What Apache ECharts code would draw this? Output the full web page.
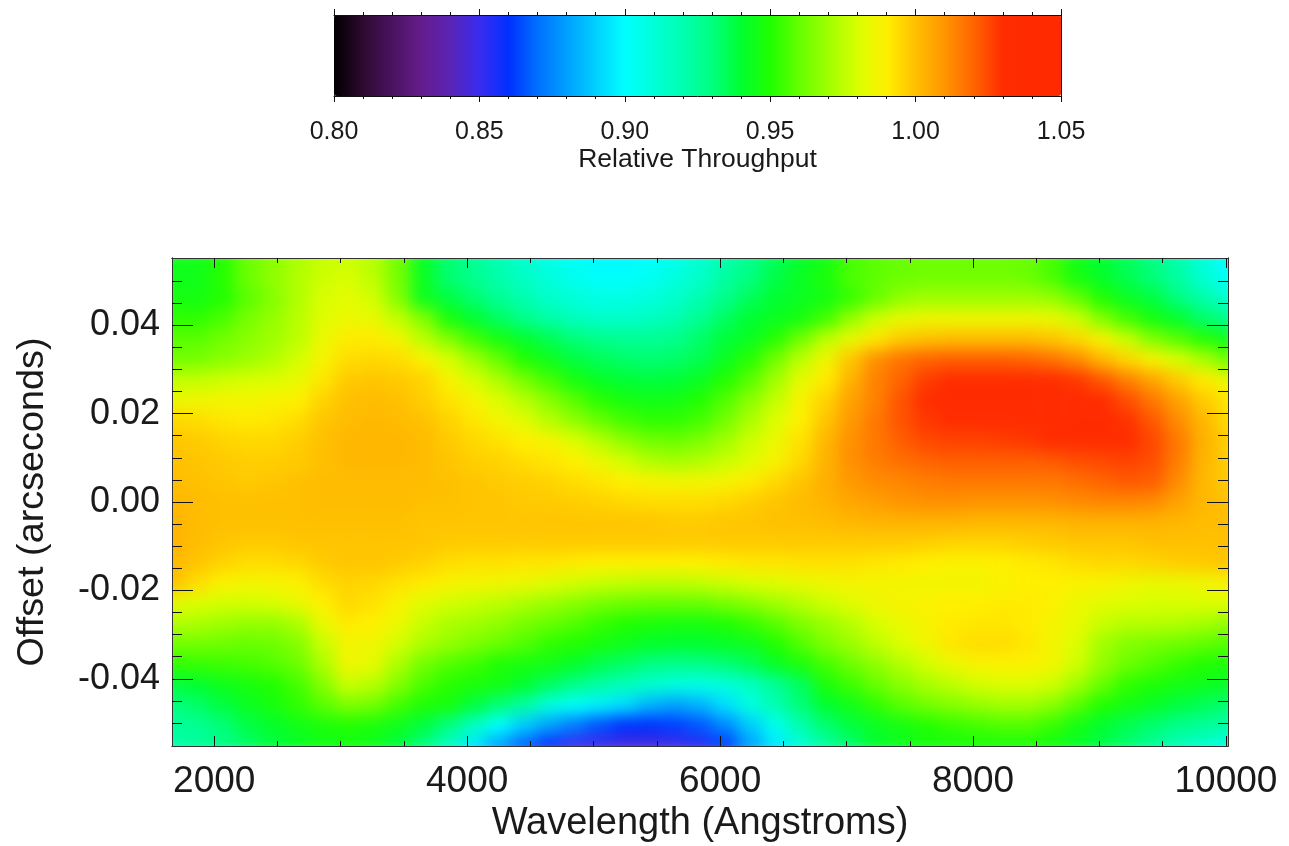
<!DOCTYPE html>
<html><head><meta charset="utf-8">
<style>html,body{margin:0;padding:0;background:#fff}#c{width:1289px;height:846px}</style>
<script src="https://cdn.jsdelivr.net/npm/echarts@6/dist/echarts.min.js"></script>
</head><body><div id="c"></div>
<script>
// Colour table, one stop per 0.01 from 0.80 to 1.05
const palette = ['#000000','#2e0a30','#4a1360','#651c8c','#5a24b4','#3a2cf0','#0030ff','#0070ff','#00a0ff','#00d0ff','#00ffff','#00ffd8','#00ffb0','#00ff80','#00ff30','#20ff00','#66ff00','#a0ff00','#d8ff00','#fff000','#ffc000','#ff9500','#ff6400','#ff2c00','#ff2a00','#ff2a00'];
// Sample positions (edge to edge of the plot)
const wavelengths = [1666,1865,2064,2262,2461,2660,2859,3058,3256,3455,3654,3853,4052,4250,4449,4648,4847,5046,5244,5443,5642,5841,6040,6238,6437,6636,6835,7034,7232,7431,7630,7829,8028,8226,8425,8624,8823,9022,9220,9419,9618,9817,10016];
const offsets = [0.0552,0.0506,0.0460,0.0414,0.0368,0.0322,0.0276,0.0230,0.0184,0.0138,0.0092,0.0046,0,-0.0046,-0.0092,-0.0138,-0.0184,-0.0230,-0.0276,-0.0322,-0.0368,-0.0414,-0.0460,-0.0506,-0.0552];
// Relative throughput x 1000, top row first
const throughput = [
[945,945,950,960,966,972,977,978,974,962,942,932,926,919,913,907,902,899,899,901,906,912,921,928,935,941,946,955,958,960,961,961,961,961,960,955,945,940,935,930,921,910,900],
[944,945,951,961,967,973,978,980,975,963,943,932,927,921,915,909,904,901,901,903,908,914,923,930,937,943,948,956,959,961,962,962,962,962,961,956,947,941,936,931,923,912,902],
[947,946,950,958,965,973,980,983,979,965,944,938,932,926,920,914,910,907,907,909,913,920,928,935,940,943,946,953,960,967,970,970,970,970,970,968,960,950,943,938,930,922,912],
[952,952,956,963,968,974,982,985,984,976,965,948,940,934,928,922,917,914,914,916,920,926,934,940,943,947,955,968,978,984,986,986,986,986,986,985,978,965,955,947,941,933,928],
[958,958,962,966,970,975,985,991,991,987,975,965,955,947,941,936,931,928,926,926,928,933,939,943,951,962,975,984,992,998,1000,1001,1001,1001,1001,999,995,988,977,965,958,951,945],
[962,963,966,969,973,979,988,994,995,994,989,980,970,960,950,944,938,935,933,932,933,936,943,951,962,975,986,999,1011,1017,1020,1021,1021,1021,1020,1017,1012,1002,995,988,980,972,962],
[976,976,978,980,981,984,992,998,999,998,996,988,980,972,963,955,947,942,939,938,939,943,950,958,970,983,991,1003,1014,1020,1027,1030,1030,1030,1030,1030,1028,1022,1014,1006,998,991,985],
[985,986,987,987,988,990,996,1000,1001,1000,997,993,988,981,974,966,958,951,947,945,946,950,957,966,976,988,996,1007,1014,1023,1030,1033,1033,1033,1033,1033,1033,1030,1024,1016,1007,998,992],
[995,994,992,991,992,994,999,1001,1002,1001,1000,996,992,987,982,974,967,960,955,952,952,955,962,972,981,990,999,1009,1016,1023,1028,1031,1032,1032,1032,1032,1033,1033,1029,1022,1012,1002,995],
[999,998,996,995,995,997,1000,1002,1002,1002,1001,998,995,993,990,988,981,974,967,962,961,964,970,978,985,993,1002,1011,1016,1021,1025,1026,1026,1027,1028,1030,1031,1032,1030,1025,1016,1004,997],
[1000,999,998,997,997,998,1000,1002,1002,1002,1001,999,997,996,994,992,990,985,979,973,971,973,977,982,988,995,1003,1011,1015,1018,1020,1021,1021,1021,1021,1022,1024,1025,1026,1024,1015,1003,997],
[1001,1000,999,998,999,1000,1001,1001,1001,1001,1001,1000,999,998,997,996,994,992,990,988,987,987,988,991,995,999,1004,1009,1012,1013,1015,1016,1016,1016,1016,1016,1018,1020,1022,1021,1012,1002,998],
[1002,1001,1000,1000,1000,1000,1001,1001,1001,1001,1000,1000,999,999,998,998,997,996,995,994,994,994,995,997,999,1001,1003,1006,1008,1010,1011,1011,1010,1010,1010,1011,1012,1013,1013,1012,1007,1002,1000],
[1003,1001,1000,1000,1000,1000,1000,1000,1000,1000,999,999,999,999,999,999,999,999,999,999,998,998,999,999,1000,1000,1001,1002,1003,1003,1003,1003,1002,1002,1002,1002,1003,1003,1003,1003,1002,1001,1001],
[1003,1001,999,998,998,999,999,999,999,999,999,998,998,998,998,998,998,998,998,998,998,998,998,998,998,998,998,998,998,998,997,996,996,996,997,998,999,999,999,1000,1000,1000,1000],
[1002,999,996,994,994,995,998,999,999,998,996,994,993,993,992,992,991,990,990,990,990,990,991,992,992,993,993,993,992,991,990,989,989,990,991,992,994,995,995,996,997,998,999],
[1000,994,989,987,988,989,994,996,995,993,991,988,987,986,985,982,979,977,976,975,975,976,978,980,982,984,986,987,987,987,987,987,987,988,990,990,989,988,986,984,985,986,988],
[983,981,979,979,980,984,990,995,993,988,982,979,977,975,972,969,966,963,961,960,960,960,963,966,970,974,978,982,986,988,989,990,990,991,991,989,985,983,981,980,980,981,982],
[973,972,970,968,968,972,984,991,990,985,977,972,970,967,963,960,957,953,950,948,947,947,949,953,958,964,969,974,980,984,988,991,992,992,991,988,984,977,974,974,973,971,967],
[962,962,961,960,961,965,977,987,986,979,972,968,964,960,957,952,950,947,944,941,940,940,942,944,950,957,964,969,975,981,986,992,994,994,992,987,981,970,965,963,961,959,957],
[952,953,954,955,957,961,972,986,983,972,962,957,954,949,947,945,941,936,933,929,927,928,931,935,942,948,955,961,967,973,979,985,988,989,989,987,978,968,961,957,953,950,948],
[938,940,944,947,950,955,965,977,974,965,956,951,948,946,940,934,928,922,917,912,908,906,909,915,925,934,948,954,960,966,971,975,979,981,981,978,970,960,952,949,946,944,942],
[930,933,938,943,947,952,958,964,962,955,949,947,938,931,923,908,901,897,893,884,880,884,893,908,920,931,940,945,952,958,962,965,968,970,970,966,958,950,946,942,938,935,932],
[924,926,931,937,941,945,948,950,948,944,938,930,915,900,889,880,872,865,860,860,862,866,875,889,905,920,932,938,943,946,950,953,955,957,957,953,946,940,936,932,928,925,922],
[922,924,928,933,938,942,945,946,944,938,930,915,895,880,868,858,850,849,847,847,849,853,862,880,895,910,923,932,940,944,946,947,948,948,948,946,942,937,932,925,918,912,906]
];
// Tick lists
const xMajorTicks = [2000,4000,6000,8000,10000];
const xMinorTicks = [2500,3000,3500,4500,5000,5500,6500,7000,7500,8500,9000,9500];
const yMajorTicks = [-0.04,-0.02,0,0.02,0.04];
const yMinorTicks = [-0.05,-0.045,-0.035,-0.03,-0.025,-0.015,-0.01,-0.005,0.005,0.01,0.015,0.025,0.03,0.035,0.045,0.05];

const PLOT = {left:172, top:258, width:1056, height:488};
const ink = '#1a1a1a';
const fontFamily = '"Liberation Sans", Helvetica, Arial, sans-serif';
const cellW = PLOT.width/(wavelengths.length-1), cellH = PLOT.height/(offsets.length-1);

const heatData = [];
throughput.forEach((row,j)=>row.forEach((v,i)=>heatData.push([i,j,v/1000])));

function xAxisFor(grid,pos,ticks,len,opts){
  return Object.assign({type:'value',gridIndex:grid,position:pos,min:wavelengths[0],max:wavelengths[wavelengths.length-1],zlevel:1,z:5,
    axisLine:{show:true,onZero:false,lineStyle:{color:'#333',width:1}},splitLine:{show:false},
    axisTick:{show:true,inside:true,length:len,customValues:ticks,lineStyle:{color:'#111',width:1}},
    axisLabel:{show:false}},opts||{});
}
function yAxisFor(grid,pos,ticks,len,opts){
  return Object.assign({type:'value',gridIndex:grid,position:pos,min:offsets[offsets.length-1],max:offsets[0],zlevel:1,z:5,
    axisLine:{show:true,onZero:false,lineStyle:{color:'#333',width:1}},splitLine:{show:false},
    axisTick:{show:true,inside:true,length:len,customValues:ticks,lineStyle:{color:'#111',width:1}},
    axisLabel:{show:false}},opts||{});
}
const barRange=[0.80,1.05];
const barAxis=(pos,opts)=>Object.assign({type:'value',gridIndex:3,position:pos,min:barRange[0],max:barRange[1],interval:0.05,zlevel:1,z:5,
  axisLine:{show:true,onZero:false,lineStyle:{color:'#111',width:1}},splitLine:{show:false},
  axisTick:{show:true,inside:false,length:6,lineStyle:{color:'#111'}},
  minorTick:{show:true,splitNumber:5,length:3,lineStyle:{color:'#111'}},
  axisLabel:{show:false}},opts||{});

const noBounds={outerBoundsMode:'none',containLabel:false};
const option = {
  animation:false,
  backgroundColor:'#ffffff',
  textStyle:{fontFamily},
  grid:[
    Object.assign({left:PLOT.left-cellW/2, top:PLOT.top-cellH/2, width:PLOT.width+cellW, height:PLOT.height+cellH},noBounds),
    Object.assign({left:PLOT.left, top:PLOT.top, width:PLOT.width, height:PLOT.height},noBounds),
    Object.assign({left:PLOT.left, top:PLOT.top, width:PLOT.width, height:PLOT.height},noBounds),
    Object.assign({left:334, top:15, width:727, height:81},noBounds)
  ],
  xAxis:[
    {type:'category',gridIndex:0,data:wavelengths,show:false},
    xAxisFor(1,'bottom',xMajorTicks,10,{
      name:'Wavelength (Angstroms)',nameLocation:'middle',nameGap:58,
      nameTextStyle:{fontSize:38,color:ink,fontFamily},
      axisLabel:{show:true,customValues:xMajorTicks,fontSize:37,color:ink,margin:17,fontFamily,formatter:v=>String(v)}}),
    xAxisFor(1,'top',xMajorTicks,10),
    xAxisFor(2,'bottom',xMinorTicks,5),
    xAxisFor(2,'top',xMinorTicks,5),
    barAxis('bottom',{name:'Relative Throughput',nameLocation:'middle',nameGap:49,
      nameTextStyle:{fontSize:26.5,color:ink,fontFamily},
      axisLabel:{show:true,fontSize:25,color:ink,margin:24,fontFamily,formatter:v=>v.toFixed(2)}}),
    barAxis('top')
  ],
  yAxis:[
    {type:'category',gridIndex:0,data:offsets,inverse:true,show:false},
    yAxisFor(1,'left',yMajorTicks,21,{
      name:'Offset (arcseconds)',nameLocation:'middle',nameGap:120,nameRotate:90,
      nameTextStyle:{fontSize:37.8,color:ink,fontFamily},
      axisLabel:{show:true,customValues:yMajorTicks,fontSize:36,color:ink,margin:12,fontFamily,formatter:v=>v.toFixed(2)}}),
    yAxisFor(1,'right',yMajorTicks,21),
    yAxisFor(2,'left',yMinorTicks,10),
    yAxisFor(2,'right',yMinorTicks,10),
    {type:'value',gridIndex:3,position:'left',min:0,max:1,zlevel:1,axisLine:{show:true,lineStyle:{color:'#111'}},axisTick:{show:false},axisLabel:{show:false},splitLine:{show:false}},
    {type:'value',gridIndex:3,position:'right',min:0,max:1,zlevel:1,axisLine:{show:true,lineStyle:{color:'#111'}},axisTick:{show:false},axisLabel:{show:false},splitLine:{show:false}}
  ],
  visualMap:{
    type:'continuous',min:barRange[0],max:barRange[1],seriesIndex:0,
    orient:'horizontal',left:334,top:15,itemWidth:81,itemHeight:727,
    calculable:false,realtime:false,text:null,showLabel:false,padding:0,zlevel:1,
    inRange:{color:palette},textStyle:{color:'transparent',fontSize:1}
  },
  series:[{
    type:'heatmap',xAxisIndex:0,yAxisIndex:0,data:heatData,silent:true,zlevel:0,
    progressive:0,emphasis:{disabled:true}
  }]
};
const chart = echarts.init(document.getElementById('c'),null,{renderer:'canvas',width:1289,height:846});
chart.setOption(option);
// The sampled cells are shown softened, as in the reference's smooth image; clip to the plot frame.
const base = chart.getDom().querySelector('canvas[data-zr-dom-id="zr_0"]');
if(base){
  base.style.filter='blur(8px)';
  base.style.clipPath=`inset(${PLOT.top}px ${1289-PLOT.left-PLOT.width}px ${846-PLOT.top-PLOT.height}px ${PLOT.left}px)`;
}
</script></body></html>
